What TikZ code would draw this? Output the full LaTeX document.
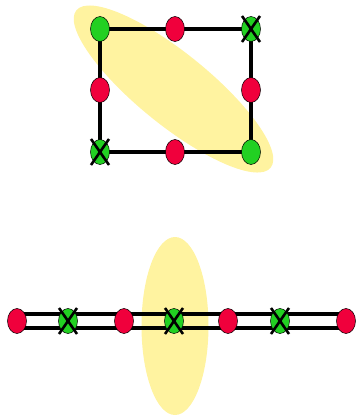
\documentclass[tikz,border=0pt]{standalone}
\usetikzlibrary{shapes.geometric}
\definecolor{hl}{HTML}{FFF3A0}
\definecolor{gn}{HTML}{22D022}
\definecolor{rd}{HTML}{F0003C}
\tikzset{
  base/.style={ellipse, draw=black, line width=0.5bp, minimum width=19bp, minimum height=25bp, inner sep=0pt},
  rnode/.style={base, fill=rd},
  gnode/.style={base, fill=gn},
  xnode/.style={base, fill=gn},
  xline/.style={line width=2.6bp, black},
  edge/.style={line width=3.2bp, black},
  blob/.style={ellipse, fill=hl, draw=none, inner sep=0pt}
}
\newcommand{\crossmark}[1]{%
  \draw[xline] ([shift={(-9,-13)}]#1.center) -- ([shift={(9,13)}]#1.center);
  \draw[xline] ([shift={(-9,13)}]#1.center) -- ([shift={(9,-13)}]#1.center);}
\begin{document}
\begin{tikzpicture}[x=1bp,y=-1bp]
\useasboundingbox (0,0) rectangle (357,418);
% highlights
\node[blob, minimum width=250bp, minimum height=72bp, rotate=-39] (h1) at (173.5,89) {};
\node[blob, minimum width=67bp, minimum height=178bp] (h2) at (175,326) {};
% top square nodes
\coordinate (tl) at (100,29);
\coordinate (tm) at (175,29);
\coordinate (tr) at (251,29);
\coordinate (ml) at (100,90);
\coordinate (mr) at (251,90);
\coordinate (bl) at (100,152);
\coordinate (bm) at (175,152);
\coordinate (br) at (251,152);
\draw[edge] (tl) -- (tr) -- (br) -- (bl) -- cycle;
\node[gnode] (n1) at (tl) {};
\node[rnode] (n2) at (tm) {};
\node[xnode] (n3) at (tr) {};
\node[rnode] (n4) at (ml) {};
\node[rnode] (n5) at (mr) {};
\node[xnode] (n6) at (bl) {};
\node[rnode] (n7) at (bm) {};
\node[gnode] (n8) at (br) {};
\crossmark{n3}
\crossmark{n6}
% bottom chain
\coordinate (la) at (17,314);
\coordinate (lb) at (346,314);
\coordinate (lc) at (17,328);
\coordinate (ld) at (346,328);
\draw[edge] (la) -- (lb);
\draw[edge] (lc) -- (ld);
\node[rnode] (c1) at (17,321) {};
\node[xnode] (c2) at (68,321) {};
\node[rnode] (c3) at (124,321) {};
\node[xnode] (c4) at (174,321) {};
\node[rnode] (c5) at (228,321) {};
\node[xnode] (c6) at (280,321) {};
\node[rnode] (c7) at (346,321) {};
\crossmark{c2}
\crossmark{c4}
\crossmark{c6}
\end{tikzpicture}
\end{document}
